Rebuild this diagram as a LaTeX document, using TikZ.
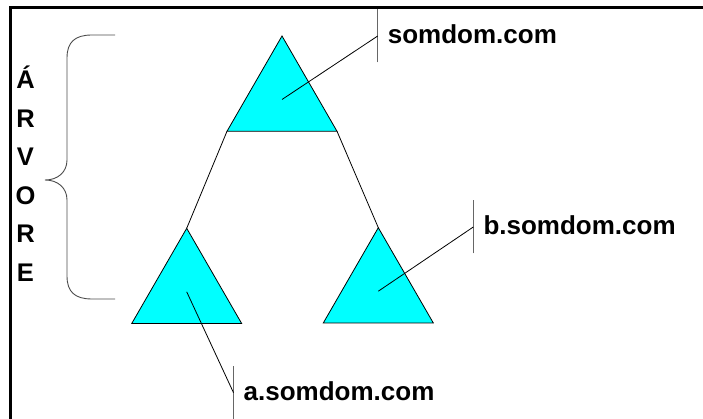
\documentclass[tikz,border=0pt]{standalone}
\usepackage{fontspec}
\setmainfont{Liberation Sans}
\usetikzlibrary{shapes.geometric}
\definecolor{aqua}{RGB}{0,255,255}

\begin{document}
\begin{tikzpicture}[
  x=1pt, y=-1pt,
  tri/.style={regular polygon, regular polygon sides=3, minimum size=127pt, inner sep=0pt, outer sep=0pt, draw=black, fill=aqua, line width=0.8pt},
  lbl/.style={font=\bfseries\fontsize{26}{30}\selectfont, inner sep=0pt, anchor=base west},
  vlet/.style={font=\bfseries\fontsize{25.5}{30}\selectfont, inner sep=0pt, anchor=base},
  lead/.style={black, line width=0.8pt},
  tick/.style={black!60, line width=1pt},
  brc/.style={black!70, line width=0.9pt}
]
\useasboundingbox (0,0) rectangle (703,419);
% frame (top and left only)
\draw[line width=2.6pt] (703,7.7) -- (10.3,7.7) -- (10.3,419);
% the three domains
\node[tri] (som) at (282,99.5) {};
\node[tri] (asom) at (186.7,291.8) {};
\node[tri] (bsom) at (378.3,291.2) {};
\draw[lead] (som.corner 2) -- (asom.corner 1);
\draw[lead] (som.corner 3) -- (bsom.corner 1);
% labels with leaders
\coordinate (tsom) at (377.7,36);
\coordinate (tbsom) at (473.3,227);
\coordinate (tasom) at (233.5,392.7);
\foreach \t in {tsom,tbsom,tasom}
  \draw[tick] ([yshift=-26.5pt]\t) -- ([yshift=26.5pt]\t);
\draw[lead] (som.center) -- (tsom);
\draw[lead] (bsom.center) -- (tbsom);
\draw[lead] (asom.center) -- (tasom);
\node[lbl] (lsom) at ([shift={(10,8)}]tsom) {somdom.com};
\node[lbl] (lbsom) at ([shift={(10,8)}]tbsom) {b.somdom.com};
\node[lbl] (lasom) at ([shift={(10,8)}]tasom) {a.somdom.com};
% brace and vertical word
\draw[brc] (115,35) -- (92,35) .. controls (75,35) and (67,42) .. (67,58) -- (67,160)
  .. controls (67,172) and (58,180) .. (45,180) .. controls (58,180) and (67,188) .. (67,200)
  -- (67,276) .. controls (67,292) and (75,299) .. (92,299) -- (115,299);
\foreach \l [count=\i] in {Á,R,V,O,R,E}
  \node[vlet] (v\i) at (25.5,50.3+38.5*\i) {\l};
\end{tikzpicture}
\end{document}
